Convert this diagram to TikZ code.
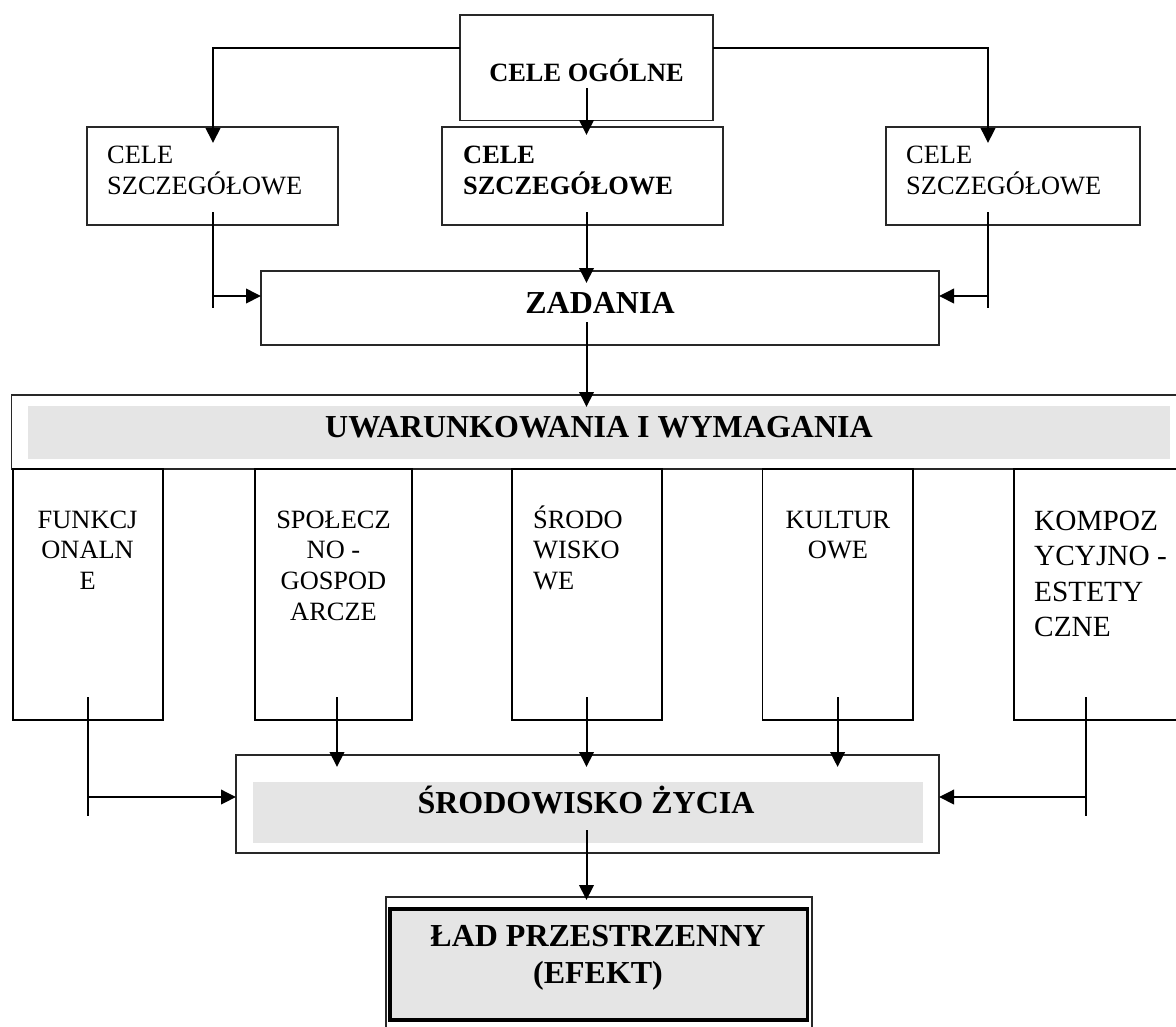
\documentclass[tikz,border=0pt]{standalone}
\usepackage{fontspec}
\setmainfont{Liberation Serif}
\usetikzlibrary{arrows.meta}
\definecolor{lg}{RGB}{229,229,229}
\definecolor{ln}{RGB}{40,40,40}
\newcommand{\mylines}[2]{\begin{tabular}[t]{@{}#1@{}}#2\end{tabular}}
\begin{document}
\begin{tikzpicture}[x=1pt,y=-1pt,
 box/.style={draw=ln, line width=1.5pt, fill=white, inner sep=0pt, outer sep=0pt, anchor=north west},
 colbox/.style={box, draw=black, line width=1.8pt},
 bar/.style={fill=lg, draw=none, inner sep=0pt, outer sep=0pt, anchor=north west},
 conn/.style={draw=black, line width=2pt},
 arr/.style={conn, -{Triangle[length=15pt,width=14.5pt]}},
 rt/.style={inner sep=0pt, font=\fontsize{26.4}{30.8}\selectfont},
 bt/.style={inner sep=0pt, font=\bfseries\fontsize{26.4}{30.5}\selectfont},
 kt/.style={inner sep=0pt, font=\fontsize{29.3}{35.5}\selectfont},
 big/.style={inner sep=0pt, font=\bfseries\fontsize{32}{37}\selectfont},
]
\useasboundingbox[fill=white] (0,0) rectangle (1176,1026);

% top level boxes
\node[box, minimum width=253pt, minimum height=105.5pt] (og) at (460,15) {};
\node[box, minimum width=251pt, minimum height=98pt] (s1) at (87,127) {};
\node[box, minimum width=281pt, minimum height=98pt] (s2) at (442,127) {};
\node[box, minimum width=254pt, minimum height=98pt] (s3) at (886,127) {};
\node[box, minimum width=678pt, minimum height=74pt] (zad) at (261,271) {};

\node[bt, anchor=base] (ogt) at (586.5,81) {CELE OGÓLNE};
\node[rt, anchor=base west] (s1t) at (107,163) {\mylines{l}{CELE\\SZCZEGÓŁOWE}};
\node[bt, anchor=base west] (s2t) at (463,163) {\mylines{l}{CELE\\SZCZEGÓŁOWE}};
\node[rt, anchor=base west] (s3t) at (906,163) {\mylines{l}{CELE\\SZCZEGÓŁOWE}};
\node[big, anchor=base] (zadt) at (600,313) {ZADANIA};

% conditions block
\node[box, minimum width=1190pt, minimum height=74pt] (uw) at (11.5,395) {};
\node[bar, minimum width=1142pt, minimum height=52.7pt] (uwbar) at (28,406) {};
\node[big, anchor=base] (uwt) at (599,437) {UWARUNKOWANIA I WYMAGANIA};

\node[colbox, minimum width=150pt, minimum height=251.3pt] (c1) at (12.6,468.7) {};
\node[colbox, minimum width=157pt, minimum height=251.3pt] (c2) at (255,468.7) {};
\node[colbox, minimum width=150pt, minimum height=251.3pt] (c3) at (512,468.7) {};
\node[colbox, minimum width=150.5pt, minimum height=251.3pt] (c4) at (762.5,468.7) {};
\node[colbox, minimum width=200pt, minimum height=251.3pt] (c5) at (1013.6,468.7) {};

\node[rt, anchor=base] (c1t) at (87.6,528) {\mylines{c}{FUNKCJ\\ONALN\\E}};
\node[rt, anchor=base] (c2t) at (333.5,528) {\mylines{c}{SPOŁECZ\\NO -\\GOSPOD\\ARCZE}};
\node[rt, anchor=base west] (c3t) at (533,528) {\mylines{l}{ŚRODO\\WISKO\\WE}};
\node[rt, anchor=base] (c4t) at (838,528) {\mylines{c}{KULTUR\\OWE}};
\node[kt, anchor=base west] (c5t) at (1034,530) {\mylines{l}{KOMPOZ\\YCYJNO -\\ESTETY\\CZNE}};

% living environment
\node[box, minimum width=703pt, minimum height=98pt] (srod) at (236,755) {};
\node[bar, minimum width=670pt, minimum height=61pt] (srodbar) at (253,782) {};
\node[big, anchor=base] (srodt) at (586,813) {ŚRODOWISKO ŻYCIA};

% result
\node[box, line width=1.2pt, minimum width=426pt, minimum height=145pt] (ladout) at (386,897) {};
\node[box, draw=black, line width=3.5pt, fill=lg, minimum width=417.5pt, minimum height=111pt] (lad) at (390,909) {};
\node[big, anchor=base] (ladt) at (598,946) {\mylines{c}{ŁAD PRZESTRZENNY\\(EFEKT)}};

% coordinates for connectors
\coordinate (ogL) at (460,48);
\coordinate (ogR) at (713,48);
\coordinate (s1in) at (213,143);
\coordinate (s3in) at (988,143);
\coordinate (ogS) at (586.5,88);
\coordinate (s2in) at (586.5,135);
\coordinate (s2S) at (586.5,212);
\coordinate (zadin) at (586.5,283);
\coordinate (s1S) at (213,212);
\coordinate (s1E) at (213,308);
\coordinate (s1J) at (213,296);
\coordinate (s3S) at (988,212);
\coordinate (s3E) at (988,308);
\coordinate (s3J) at (988,296);
\coordinate (zadS) at (586.5,322);
\coordinate (uwin) at (586.5,407);

\coordinate (c1S) at (88,697);
\coordinate (c1E) at (88,816);
\coordinate (c1J) at (88,797);
\coordinate (c2S) at (337,697);
\coordinate (c3S) at (586.5,697);
\coordinate (c4S) at (837.6,697);
\coordinate (c5S) at (1086,697);
\coordinate (c5E) at (1086,816);
\coordinate (c5J) at (1086,797);
\coordinate (srodS) at (586.5,830);
\coordinate (ladin) at (586.5,900);

% connectors
\draw[arr] (ogL) -| (s1in);
\draw[arr] (ogR) -| (s3in);
\draw[arr] (ogS) -- (s2in);
\draw[arr] (s2S) -- (zadin);
\draw[conn] (s1S) -- (s1E);
\draw[arr] (s1J) -- (s1J -| zad.west);
\draw[conn] (s3S) -- (s3E);
\draw[arr] (s3J) -- (s3J -| zad.east);
\draw[arr] (zadS) -- (uwin);

\draw[conn] (c1S) -- (c1E);
\draw[arr] (c1J) -- (c1J -| srod.west);
\draw[arr] (c2S) -- (c2S |- 0,767);
\draw[arr] (c3S) -- (c3S |- 0,767);
\draw[arr] (c4S) -- (c4S |- 0,767);
\draw[conn] (c5S) -- (c5E);
\draw[arr] (c5J) -- (c5J -| srod.east);
\draw[arr] (srodS) -- (ladin);
\end{tikzpicture}
\end{document}
